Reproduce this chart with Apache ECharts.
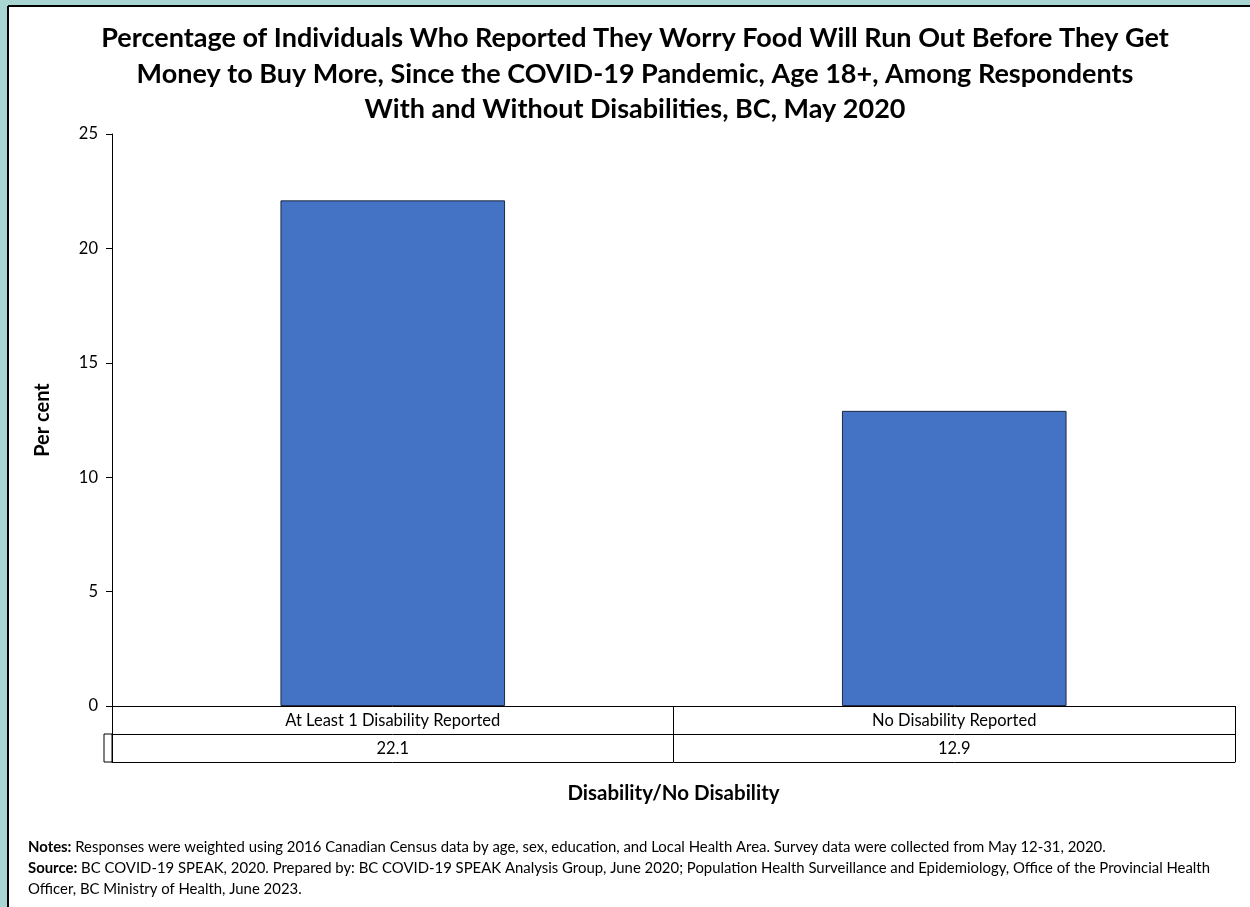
<!DOCTYPE html>
<html>
<head>
<meta charset="utf-8">
<script src="https://cdn.jsdelivr.net/npm/echarts@6/dist/echarts.min.js"></script>
<style>
html,body{margin:0;padding:0;background:#fff;}
#chart{width:1250px;height:907px;}
</style>
</head>
<body>
<div id="chart"></div>
<script>
const categories = ["At Least 1 Disability Reported", "No Disability Reported"];
const values = [22.1, 12.9];
const yTicks = [0, 5, 10, 15, 20, 25];
const titleLines = [
  "Percentage of Individuals Who Reported They Worry Food Will Run Out Before They Get",
  "Money to Buy More, Since the COVID-19 Pandemic, Age 18+, Among Respondents",
  "With and Without Disabilities, BC, May 2020"
];
const yAxisTitle = "Per cent";
const xAxisTitle = "Disability/No Disability";
const notesText = "Responses were weighted using 2016 Canadian Census data by age, sex, education, and Local Health Area. Survey data were collected from May 12-31, 2020.";
const sourceText1 = "BC COVID-19 SPEAK, 2020. Prepared by: BC COVID-19 SPEAK Analysis Group, June 2020; Population Health Surveillance and Epidemiology, Office of the Provincial Health";
const sourceText2 = "Officer, BC Ministry of Health, June 2023.";

const FONT = "Lato";
const W = 1250, H = 907;
const gridLeft = 112, gridRight = 15, gridTop = 134, gridBottom = 201;
const rowH = 28;

const chart = echarts.init(document.getElementById('chart'), null, {renderer: 'canvas'});

const option = {
  backgroundColor: '#ffffff',
  animation: false,
  title: {
    text: titleLines.join('\n'),
    left: 630,
    top: 16,
    textAlign: 'center',
    textStyle: {fontFamily: FONT, fontWeight: 'bold', fontSize: 27, lineHeight: 35.5, color: '#000'}
  },
  grid: {left: gridLeft, right: gridRight, top: gridTop, bottom: gridBottom, containLabel: false},
  xAxis: [
    {
      type: 'category',
      data: categories,
      position: 'bottom',
      boundaryGap: true,
      axisLine: {show: true, lineStyle: {color: '#000', width: 1}},
      axisTick: {show: true, alignWithLabel: false, interval: 0, length: rowH * 2, lineStyle: {color: '#000', width: 1}},
      axisLabel: {interval: 0, margin: 6, fontFamily: FONT, fontSize: 16.5, color: '#000'},
      name: xAxisTitle,
      nameLocation: 'middle',
      nameGap: 77,
      nameTextStyle: {fontFamily: FONT, fontWeight: 'bold', fontSize: 20.5, color: '#000'}
    },
    {
      type: 'category',
      data: categories,
      position: 'bottom',
      offset: rowH,
      boundaryGap: true,
      axisLine: {show: true, lineStyle: {color: '#000', width: 1}},
      axisTick: {show: false},
      axisLabel: {interval: 0, margin: 6, fontFamily: FONT, fontSize: 16.5, color: '#000',
        formatter: function (v, i) { return values[i].toFixed(1); }}
    },
    {
      type: 'category',
      data: categories,
      position: 'bottom',
      offset: rowH * 2,
      boundaryGap: true,
      axisLine: {show: true, lineStyle: {color: '#000', width: 1}},
      axisTick: {show: false},
      axisLabel: {show: false}
    }
  ],
  yAxis: {
    type: 'value',
    min: yTicks[0],
    max: yTicks[yTicks.length - 1],
    interval: yTicks[1] - yTicks[0],
    axisLine: {show: true, lineStyle: {color: '#000', width: 1}},
    axisTick: {show: true, length: 6, lineStyle: {color: '#000'}},
    splitLine: {show: false},
    axisLabel: {margin: 14, fontFamily: FONT, fontSize: 16.5, color: '#000'},
    name: yAxisTitle,
    nameLocation: 'middle',
    nameRotate: 90,
    nameGap: 59,
    nameTextStyle: {fontFamily: FONT, fontWeight: 'bold', fontSize: 20, color: '#000'}
  },
  series: [{
    type: 'bar',
    data: values,
    xAxisIndex: 0,
    barWidth: '40%',
    itemStyle: {color: '#4472C4', borderColor: '#1F2A44', borderWidth: 1}
  }],
  graphic: []
};

chart.setOption(option);

// Decorations: frame, left table cell, notes
const y0 = H - gridBottom;
const graphics = [
  {type: 'rect', shape: {x: 0, y: 0, width: W, height: 6}, style: {fill: '#A8D4D2'}, silent: true},
  {type: 'rect', shape: {x: 0, y: 0, width: 8, height: H}, style: {fill: '#A8D4D2'}, silent: true},
  {type: 'line', shape: {x1: 8, y1: 6, x2: W, y2: 6}, style: {stroke: '#000', lineWidth: 2}, silent: true},
  {type: 'line', shape: {x1: 8, y1: 6, x2: 8, y2: H}, style: {stroke: '#000', lineWidth: 2}, silent: true},
  {type: 'rect', shape: {x: gridLeft - 8, y: y0 + rowH, width: 8, height: rowH},
    style: {fill: 'none', stroke: '#000', lineWidth: 1}, silent: true},
  {type: 'text', left: 28, top: 837, silent: true,
    style: {
      text: '{b|Notes:} ' + notesText + '\n{b|Source:} ' + sourceText1 + '\n' + sourceText2,
      font: '14.9px ' + FONT, fill: '#000', lineHeight: 21,
      rich: {b: {fontFamily: FONT, fontWeight: 'bold', fontSize: 14.9, fill: '#000'}}
    }}
];
chart.setOption({graphic: graphics});
</script>
</body>
</html>
